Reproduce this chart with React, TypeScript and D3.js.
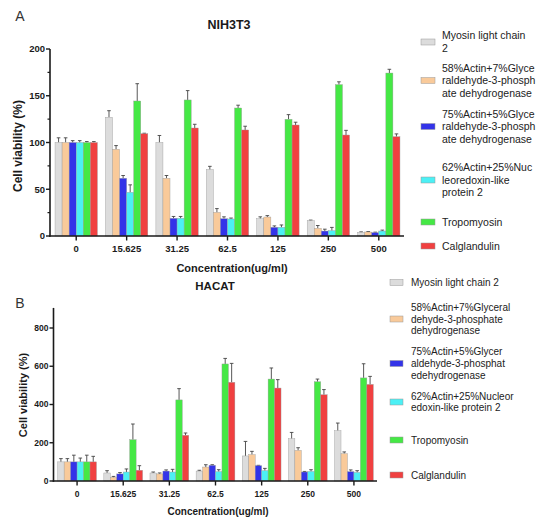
import * as d3 from "d3";

const concentrations = ["0", "15.625", "31.25", "62.5", "125", "250", "500"];

const seriesColors = ["#dcdcdc", "#f9ca9a", "#3333e8", "#4cf0f5", "#45e845", "#f04040"];

// NIH3T3 means and errors (series order as in legend)
const nihMyosin = [100, 127, 100, 71, 18.5, 16.4, 3.9];
const nihMyosinErr = [5, 7, 7.5, 3.5, 2, 0.6, 0.5];
const nihActin58 = [100, 92.7, 61.7, 25.3, 20.3, 8.2, 4.3];
const nihActin58Err = [5, 4, 3, 4, 1.5, 3, 0.5];
const nihActin75 = [100, 61.7, 18.9, 18.5, 9.3, 5.3, 3.6];
const nihActin75Err = [2, 3, 2, 2, 1.5, 2, 0.5];
const nihActin62 = [100, 46.7, 18.9, 18.2, 9.3, 5.7, 5.3];
const nihActin62Err = [2, 8, 2, 1, 2.5, 3.5, 1];
const nihTropo = [100, 144.4, 145.5, 136.9, 124.8, 161.9, 174.3];
const nihTropoErr = [1, 18.5, 10, 3, 5, 3, 4];
const nihCalg = [100, 109.4, 115.5, 113.4, 118.7, 108, 106.2];
const nihCalgErr = [1, 0.5, 4, 4, 3, 5, 3];

// HACAT means and errors
const hacMyosin = [100, 42, 42, 52, 131, 221, 263];
const hacMyosinErr = [17, 12, 5, 4, 76, 33, 40];
const hacActin58 = [100, 19, 37, 73, 138, 160, 143];
const hacActin58Err = [17, 5, 5, 12, 17, 14, 9];
const hacActin75 = [100, 37, 52, 82, 80, 47, 49];
const hacActin75Err = [35, 7, 6, 3, 2, 3, 9];
const hacActin62 = [100, 47, 47, 49, 54, 50, 45];
const hacActin62Err = [20, 16, 14, 10, 12, 9, 9];
const hacTropo = [100, 216, 424, 612, 533, 519, 539];
const hacTropoErr = [35, 82, 59, 29, 58, 14, 74];
const hacCalg = [100, 56, 239, 516, 486, 451, 505];
const hacCalgErr = [29, 24, 12, 99, 44, 27, 42];

const legendA = [
  ["Myosin light chain", "2"],
  ["58%Actin+7%Glyce", "raldehyde-3-phosph", "ate dehydrogenase"],
  ["75%Actin+5%Glyce", "raldehyde-3-phosph", "ate dehydrogenase"],
  ["62%Actin+25%Nuc", "leoredoxin-like", "protein 2"],
  ["Tropomyosin"],
  ["Calglandulin"],
];
const legendB = [
  ["Myosin light chain 2"],
  ["58%Actin+7%Glyceral", "dehyde-3-phosphate", "dehydrogenase"],
  ["75%Actin+5%Glycer", "aldehyde-3-phosphat", "edehydrogenase"],
  ["62%Actin+25%Nucleor", "edoxin-like protein 2"],
  ["Tropomyosin"],
  ["Calglandulin"],
];

const FONT = "'Liberation Sans', Arial, sans-serif";
const INK = "#1a1a1a";

interface PanelCfg {
  letter: string;
  title: string;
  means: number[][];
  errs: number[][];
  legend: string[][];
  yMax: number;
  yTop: number;
  yTicks: number[];
  yMinor: number[];
  xRange: [number, number];
  axisX: number;
  y0: number;
  y1: number;
  tickFont: number;
  labelFont: number;
  titleY: number;
  titleX: number;
  letterY: number;
  ylabX: number;
  ylabY: number;
  xlabX: number;
  xlabY: number;
  legSwX: number;
  legSwW: number;
  legSwH: number;
  legTextX: number;
  legYs: number[];
  legLine: number;
  legFont: number;
}

function Panel({ c }: { c: PanelCfg }) {
  const x = d3.scaleBand<string>().domain(concentrations).range(c.xRange).paddingInner(0.16).paddingOuter(0.08);
  const inner = d3.scaleBand<number>().domain(d3.range(6)).range([0, x.bandwidth()]).paddingInner(0);
  const y = d3.scaleLinear().domain([0, c.yMax]).range([c.y0, c.y1]);
  const xEnd = c.xRange[1];
  return (
    <g>
      <text x={20} y={c.letterY} fontSize={14} fill="#333" fontFamily={FONT} textAnchor="middle">{c.letter}</text>
      <text x={c.titleX} y={c.titleY} fontSize={c.labelFont + 1.5} fontWeight="bold" fill={INK} fontFamily={FONT} textAnchor="middle">{c.title}</text>
      {c.means.map((s, si) =>
        s.map((v, gi) => {
          const bx = x(concentrations[gi])! + inner(si)!;
          const bw = inner.bandwidth();
          const top = y(v);
          const et = y(v + c.errs[si][gi]);
          const cx = bx + bw / 2;
          return (
            <g key={`${si}-${gi}`}>
              <line x1={cx} x2={cx} y1={top} y2={et} stroke="#444" strokeWidth={0.9} />
              <line x1={cx - 1.8} x2={cx + 1.8} y1={et} y2={et} stroke="#444" strokeWidth={0.9} />
              <rect x={bx} y={top} width={bw} height={c.y0 - top} fill={seriesColors[si]} stroke="#9a9a9a" strokeWidth={0.4} />
            </g>
          );
        })
      )}
      {/* axes */}
      <line x1={c.axisX} x2={c.axisX} y1={y(c.yTop)} y2={c.y0 + 0.8} stroke={INK} strokeWidth={1.6} />
      <line x1={c.axisX - 0.8} x2={xEnd} y1={c.y0} y2={c.y0} stroke={INK} strokeWidth={1.6} />
      {c.yTicks.map((t) => (
        <g key={t}>
          <line x1={c.axisX - 4} x2={c.axisX} y1={y(t)} y2={y(t)} stroke={INK} strokeWidth={1.4} />
          <text x={c.axisX - 5} y={y(t)} dy="0.35em" fontSize={c.tickFont} fontWeight="bold" fill={INK} fontFamily={FONT} textAnchor="end">{t}</text>
        </g>
      ))}
      {c.yMinor.map((t) => (
        <line key={t} x1={c.axisX - 2.5} x2={c.axisX} y1={y(t)} y2={y(t)} stroke={INK} strokeWidth={1.2} />
      ))}
      {concentrations.map((k) => {
        const cx = x(k)! + x.bandwidth() / 2;
        return (
          <g key={k}>
            <line x1={cx} x2={cx} y1={c.y0} y2={c.y0 + 4.5} stroke={INK} strokeWidth={1.4} />
            <text x={cx} y={c.y0 + 13} dy="0.35em" fontSize={c.tickFont} fontWeight="bold" fill={INK} fontFamily={FONT} textAnchor="middle">{k}</text>
          </g>
        );
      })}
      <text transform={`translate(${c.ylabX},${c.ylabY}) rotate(-90)`} dy="0.35em" fontSize={c.labelFont + 1} fontWeight="bold" fill={INK} fontFamily={FONT} textAnchor="middle">Cell viability (%)</text>
      <text x={c.xlabX} y={c.xlabY} dy="0.35em" fontSize={c.labelFont} fontWeight="bold" fill={INK} fontFamily={FONT} textAnchor="middle">Concentration(ug/ml)</text>
      {/* legend */}
      {c.legend.map((lines, i) => {
        const cy = c.legYs[i];
        const first = cy - ((lines.length - 1) * c.legLine) / 2;
        return (
          <g key={i}>
            <rect x={c.legSwX} y={cy - c.legSwH / 2} width={c.legSwW} height={c.legSwH} fill={seriesColors[i]} stroke="#999" strokeWidth={0.5} />
            {lines.map((ln, li) => (
              <text key={li} x={c.legTextX} y={first + li * c.legLine} dy="0.35em" fontSize={c.legFont} fill="#222" fontFamily={FONT}>{ln}</text>
            ))}
          </g>
        );
      })}
    </g>
  );
}

const panelA: PanelCfg = {
  letter: "A",
  title: "NIH3T3",
  means: [nihMyosin, nihActin58, nihActin75, nihActin62, nihTropo, nihCalg],
  errs: [nihMyosinErr, nihActin58Err, nihActin75Err, nihActin62Err, nihTropoErr, nihCalgErr],
  legend: legendA,
  yMax: 200,
  yTop: 200,
  yTicks: [0, 50, 100, 150, 200],
  yMinor: [25, 75, 125, 175],
  xRange: [51, 404],
  axisX: 50,
  y0: 236,
  y1: 49,
  tickFont: 9.5,
  labelFont: 11,
  titleY: 29,
  titleX: 229,
  letterY: 21,
  ylabX: 18,
  ylabY: 146,
  xlabX: 232,
  xlabY: 268,
  legSwX: 421,
  legSwW: 14,
  legSwH: 6,
  legTextX: 442,
  legYs: [42, 80.5, 126.5, 180, 222, 246],
  legLine: 12.4,
  legFont: 10.5,
};

const panelB: PanelCfg = {
  letter: "B",
  title: "HACAT",
  means: [hacMyosin, hacActin58, hacActin75, hacActin62, hacTropo, hacCalg],
  errs: [hacMyosinErr, hacActin58Err, hacActin75Err, hacActin62Err, hacTropoErr, hacCalgErr],
  legend: legendB,
  yMax: 800,
  yTop: 905,
  yTicks: [0, 200, 400, 600, 800],
  yMinor: [],
  xRange: [54, 377],
  axisX: 53.5,
  y0: 481,
  y1: 328,
  tickFont: 8.5,
  labelFont: 10,
  titleY: 290,
  titleX: 215,
  letterY: 308,
  ylabX: 23,
  ylabY: 395,
  xlabX: 218,
  xlabY: 511,
  legSwX: 390,
  legSwW: 13,
  legSwH: 6,
  legTextX: 411,
  legYs: [282.5, 319, 363.5, 402, 440, 475],
  legLine: 11.6,
  legFont: 10,
};

export default function App() {
  return (
    <div style={{ position: "absolute", left: 0, top: 0 }}>
      <svg width={550} height={525} style={{ display: "block", background: "#fff" }}>
        <Panel c={panelA} />
        <Panel c={panelB} />
      </svg>
    </div>
  );
}
